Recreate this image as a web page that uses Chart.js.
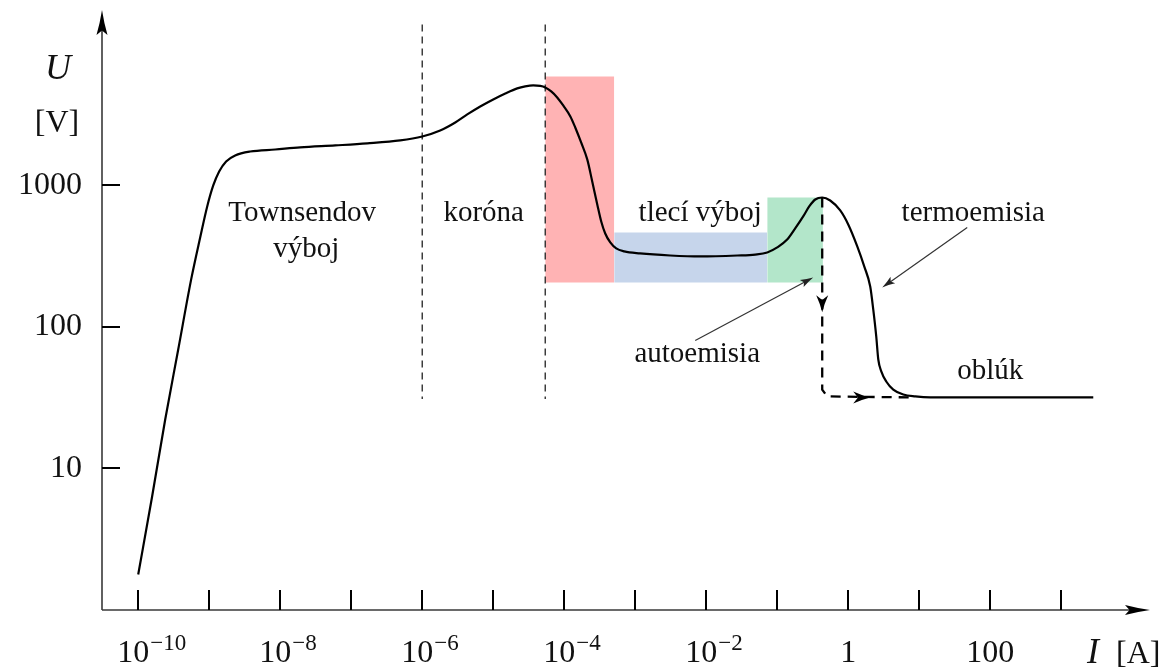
<!DOCTYPE html>
<html>
<head>
<meta charset="utf-8">
<title>Voltampérová charakteristika výboja</title>
<script src="https://cdn.jsdelivr.net/npm/chart.js@4.4.1/dist/chart.umd.min.js"></script>
<style>
  html, body { margin: 0; padding: 0; background: #ffffff; }
  canvas { display: block; }
</style>
</head>
<body>
<canvas id="chart" width="1166" height="671"></canvas>
<script>
// Current–voltage characteristic of a gas discharge, log–log axes.
// Main curve: current I [A] and voltage U [V].
const currentA = [
  1.0e-10, 1.57e-10, 2.40e-10, 3.66e-10, 5.57e-10, 7.46e-10, 9.37e-10, 1.14e-9, 1.38e-9,
  1.73e-9, 2.32e-9, 3.78e-9, 8.51e-9, 1.91e-8, 5.96e-8, 1.68e-7, 4.90e-7, 1.0e-6,
  1.79e-6, 2.92e-6, 4.31e-6, 6.56e-6, 1.0e-5, 1.48e-5, 2.18e-5, 2.82e-5, 3.66e-5,
  4.59e-5, 5.40e-5, 6.56e-5, 7.96e-5, 9.68e-5, 1.22e-4, 1.43e-4, 1.73e-4, 2.11e-4,
  2.48e-4, 2.92e-4, 3.32e-4, 3.78e-4, 4.45e-4, 5.40e-4, 7.00e-4, 1.17e-3, 3.11e-3,
  8.22e-3, 2.74e-2, 4.90e-2, 7.23e-2, 0.100, 0.138, 0.179, 0.232, 0.282, 0.343, 0.430,
  0.557, 0.771, 1.00, 1.34, 1.68, 2.04, 2.25, 2.48, 2.65, 2.92, 3.43, 4.31, 5.96, 8.79,
  14.3, 2825];
const voltageV = [
  1.78, 6.34, 22.2, 69.3, 217, 429, 711, 1000, 1256,
  1479, 1630, 1738, 1795, 1857, 1918, 1982, 2080, 2219,
  2447, 2787, 3177, 3616, 4055, 4467, 4853, 5012, 5093,
  5052, 4933, 4617, 4190, 3675, 3077, 2570, 2014, 1528,
  1067, 735, 557, 458, 396, 359, 342, 331, 320,
  315, 320, 325, 336, 365, 415, 497, 604, 711, 796, 822,
  783, 666, 530, 371, 268, 193, 133, 85.7, 58.9, 48.5, 41.2, 36.1, 33.3, 32.3,
  31.8, 31.8];

// Jump from the glow peak straight down to the arc branch (dashed).
const jumpA = [0.43, 0.43, 0.506, 7.46];
const jumpV = [822, 36.1, 32.3, 31.8];

// Shaded bands: red (transition), blue (glow discharge), green (field emission).
const bandFromA = [5.4e-5, 5.06e-4, 0.0723];
const bandToA   = [5.06e-4, 0.0723, 0.44];
const bandTopV  = [5890, 466, 822];
const bandBaseV = 206;

// Dashed boundaries between the Townsend, corona and later regimes.
const boundaryA = [1.0e-6, 5.4e-5];
const boundaryTopV = 13740;
const boundaryBottomV = 31;

// Axis ticks and labels.
const xTickValues = [1e-10, 1e-9, 1e-8, 1e-7, 1e-6, 1e-5, 1e-4, 1e-3, 1e-2, 1e-1, 1, 10, 100, 1000];
const xLabelValues = [1e-10, 1e-8, 1e-6, 1e-4, 1e-2, 1, 100];
const xLabelTexts = ['10^−10', '10^−8', '10^−6', '10^−4', '10^−2', '1', '100'];
const yTickValues = [10, 100, 1000];
const yLabelTexts = ['10', '100', '1000'];

// Axis ranges (decade exponents).
const xRangeExp = [-10.51, 4.25];
const yRangeExp = [0, 4.24];

// Region names, anchored in data coordinates (I, U).
const regionLabels = [
  { text: 'Townsendov', I: 2.04e-8, U: 557 },
  { text: 'výboj', I: 2.32e-8, U: 310 },
  { text: 'koróna', I: 7.35e-6, U: 557 },
  { text: 'tlecí výboj', I: 8.22e-3, U: 557 },
  { text: 'termoemisia', I: 57.7, U: 557 },
  { text: 'autoemisia', I: 7.47e-3, U: 57.0 },
  { text: 'oblúk', I: 100, U: 42.6 }
];
// Pointer arrows from a label to the curve.
const pointerArrows = [
  { from: [7.0e-3, 80.3], to: [0.321, 224] },
  { from: [47.4, 505], to: [3.01, 190] }
];
// Direction markers on the dashed jump.
const jumpMarkers = [
  { at: [0.43, 127], dir: 'down' },
  { at: [2.04, 31.8], dir: 'right' }
];

const SERIF = "'Liberation Serif', 'Times New Roman', Times, serif";
const INK = '#111111';

const toPoints = (xs, ys) => xs.map((x, i) => ({ x, y: ys[i] }));

const datasets = [];
// main characteristic (drawn on top)
datasets.push({
  data: toPoints(currentA, voltageV),
  borderColor: '#000000', borderWidth: 2.2, pointRadius: 0,
  cubicInterpolationMode: 'monotone', fill: false
});
// dashed jump
datasets.push({
  data: toPoints(jumpA, jumpV),
  borderColor: '#000000', borderWidth: 2.3, borderDash: [10, 7], pointRadius: 0,
  tension: 0, fill: false
});
// regime boundaries
boundaryA.forEach(a => datasets.push({
  data: [{ x: a, y: boundaryTopV }, { x: a, y: boundaryBottomV }],
  borderColor: '#222222', borderWidth: 1.3, borderDash: [7, 5], pointRadius: 0,
  tension: 0, fill: false
}));
// shaded bands
const bandColors = ['#ffb3b4', '#c6d5eb', '#b3e6ca'];
bandFromA.forEach((a, i) => datasets.push({
  data: [{ x: a, y: bandTopV[i] }, { x: bandToA[i], y: bandTopV[i] }],
  borderWidth: 0, borderColor: 'rgba(0,0,0,0)', pointRadius: 0, tension: 0,
  backgroundColor: bandColors[i], fill: { value: bandBaseV }
}));

function arrowHead(ctx, x, y, angle, L, W, notch) {
  ctx.save();
  ctx.translate(x, y);
  ctx.rotate(angle);
  ctx.beginPath();
  ctx.moveTo(0, 0);
  ctx.quadraticCurveTo(-L * 0.5, -W * 0.35, -L, -W);
  ctx.lineTo(-L * notch, 0);
  ctx.lineTo(-L, W);
  ctx.quadraticCurveTo(-L * 0.5, W * 0.35, 0, 0);
  ctx.closePath();
  ctx.fill();
  ctx.restore();
}

function drawPowerLabel(ctx, text, cx, baseline) {
  const parts = text.split('^');
  if (parts.length === 1) {
    ctx.font = '32px ' + SERIF;
    ctx.textAlign = 'center';
    ctx.fillText(parts[0], cx, baseline);
    return;
  }
  ctx.font = '32px ' + SERIF;
  const bw = ctx.measureText(parts[0]).width;
  const left = cx - 5 - bw / 2;
  ctx.textAlign = 'left';
  ctx.fillText(parts[0], left, baseline);
  ctx.font = '23px ' + SERIF;
  ctx.fillText(parts[1], left + bw + 1, baseline - 12);
}

const decorations = {
  id: 'decorations',
  afterDraw(chart) {
    const ctx = chart.ctx;
    const sx = chart.scales.x, sy = chart.scales.y;
    const px = v => sx.getPixelForValue(v);
    const py = v => sy.getPixelForValue(v);
    const { left, right, top, bottom } = chart.chartArea;

    ctx.save();
    // axes
    ctx.strokeStyle = '#3a3a3a';
    ctx.lineWidth = 1.6;
    ctx.beginPath();
    ctx.moveTo(left, bottom);
    ctx.lineTo(left, top + 12);
    ctx.moveTo(left, bottom);
    ctx.lineTo(right - 12, bottom);
    ctx.stroke();
    ctx.fillStyle = '#000000';
    arrowHead(ctx, left, top, -Math.PI / 2, 25, 5.5, 0.82);
    arrowHead(ctx, right, bottom, 0, 25, 5, 0.82);

    // ticks
    ctx.strokeStyle = '#000000';
    ctx.lineWidth = 2;
    ctx.beginPath();
    xTickValues.forEach(v => {
      const x = Math.round(px(v));
      ctx.moveTo(x, bottom);
      ctx.lineTo(x, bottom - 20);
    });
    yTickValues.forEach(v => {
      const y = Math.round(py(v));
      ctx.moveTo(left, y);
      ctx.lineTo(left + 18, y);
    });
    ctx.stroke();

    // tick labels
    ctx.fillStyle = INK;
    ctx.textBaseline = 'alphabetic';
    xLabelValues.forEach((v, i) => drawPowerLabel(ctx, xLabelTexts[i], px(v), bottom + 52));
    ctx.font = '32px ' + SERIF;
    ctx.textAlign = 'right';
    ctx.textBaseline = 'middle';
    yTickValues.forEach((v, i) => ctx.fillText(yLabelTexts[i], left - 20, py(v)));

    // axis titles
    ctx.textBaseline = 'alphabetic';
    ctx.textAlign = 'center';
    ctx.font = 'italic 36px ' + SERIF;
    ctx.fillText('U', left - 44, top + 69);
    ctx.font = '32px ' + SERIF;
    ctx.fillText('[V]', left - 45, top + 122);
    ctx.textAlign = 'left';
    ctx.font = 'italic 36px ' + SERIF;
    ctx.fillText('I', right - 63, bottom + 53);
    ctx.font = '32px ' + SERIF;
    ctx.fillText('[A]', right - 34, bottom + 53);

    // region names
    ctx.font = '29px ' + SERIF;
    ctx.textAlign = 'center';
    regionLabels.forEach(l => ctx.fillText(l.text, px(l.I), py(l.U)));

    // pointer arrows
    ctx.strokeStyle = '#333333';
    ctx.fillStyle = '#222222';
    ctx.lineWidth = 1.2;
    pointerArrows.forEach(a => {
      const x0 = px(a.from[0]), y0 = py(a.from[1]);
      const x1 = px(a.to[0]), y1 = py(a.to[1]);
      const ang = Math.atan2(y1 - y0, x1 - x0);
      ctx.beginPath();
      ctx.moveTo(x0, y0);
      ctx.lineTo(x1 - Math.cos(ang) * 8, y1 - Math.sin(ang) * 8);
      ctx.stroke();
      arrowHead(ctx, x1, y1, ang, 13, 4, 0.8);
    });

    // direction markers on the dashed jump
    ctx.fillStyle = '#000000';
    jumpMarkers.forEach(m => {
      const x = px(m.at[0]), y = py(m.at[1]);
      arrowHead(ctx, x, y, m.dir === 'down' ? Math.PI / 2 : 0, 17, 6, 0.72);
    });
    ctx.restore();
  }
};

new Chart(document.getElementById('chart'), {
  type: 'line',
  data: { datasets },
  options: {
    responsive: false,
    animation: false,
    events: [],
    layout: { padding: { left: 102, right: 16, top: 10, bottom: 61 } },
    scales: {
      x: {
        type: 'logarithmic', display: false,
        min: Math.pow(10, xRangeExp[0]), max: Math.pow(10, xRangeExp[1])
      },
      y: {
        type: 'logarithmic', display: false,
        min: Math.pow(10, yRangeExp[0]), max: Math.pow(10, yRangeExp[1])
      }
    },
    plugins: {
      legend: { display: false },
      tooltip: { enabled: false },
      filler: { propagate: false }
    }
  },
  plugins: [decorations]
});
</script>
</body>
</html>
